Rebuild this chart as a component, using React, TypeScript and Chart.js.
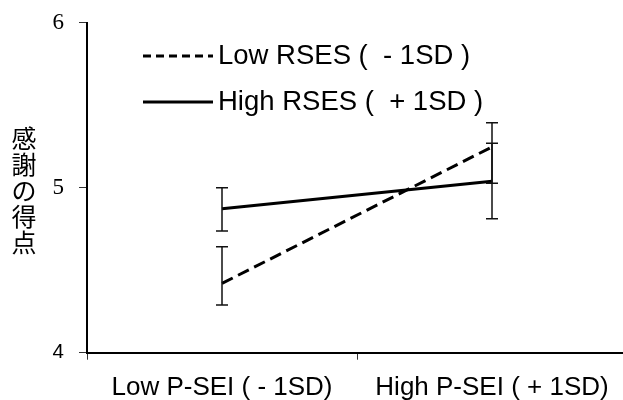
import React, { useEffect, useRef } from 'react';
import { Chart, registerables } from 'chart.js';

Chart.register(...registerables);

const categories = ['Low P-SEI ( - 1SD)', 'High P-SEI ( + 1SD)'];
const seriesNames = ['Low RSES (  - 1SD )', 'High RSES (  + 1SD )'];
const lowRSES = [4.42, 5.247];
const lowRSESLower = [4.289, 5.027];
const lowRSESUpper = [4.642, 5.394];
const highRSES = [4.873, 5.039];
const highRSESLower = [4.738, 4.812];
const highRSESUpper = [5.0, 5.269];
const yMin = 4;
const yMax = 6;
const yTitleChars = ['感', '謝', 'の', '得', '点'];

const SANS = '"Liberation Sans", Arial, sans-serif';
const SERIF = '"Liberation Serif", "Times New Roman", serif';
const CJK = '"Noto Sans CJK JP", sans-serif';

const errorBarsPlugin = {
  id: 'errorBars',
  afterDatasetsDraw(chart: any) {
    const { ctx, scales } = chart;
    const xs = scales.x;
    const ys = scales.y;
    const bounds = [
      [lowRSESLower, lowRSESUpper],
      [highRSESLower, highRSESUpper],
    ];
    ctx.save();
    ctx.strokeStyle = '#111';
    ctx.lineWidth = 1.5;
    bounds.forEach(([lo, hi]) => {
      lo.forEach((v: number, i: number) => {
        const x = xs.getPixelForValue(i);
        const y1 = ys.getPixelForValue(v);
        const y2 = ys.getPixelForValue(hi[i]);
        ctx.beginPath();
        ctx.moveTo(x, y1);
        ctx.lineTo(x, y2);
        ctx.moveTo(x - 6, y1);
        ctx.lineTo(x + 6, y1);
        ctx.moveTo(x - 6, y2);
        ctx.lineTo(x + 6, y2);
        ctx.stroke();
      });
    });
    ctx.restore();
  },
};

const decorPlugin = {
  id: 'decor',
  afterDraw(chart: any) {
    const { ctx } = chart;
    ctx.save();
    ctx.fillStyle = '#000';
    ctx.font = `25px ${CJK}`;
    ctx.textAlign = 'center';
    ctx.textBaseline = 'middle';
    yTitleChars.forEach((c, i) => {
      ctx.fillText(c, 24, 138 + i * 26);
    });
    const rows = [
      { y: 56, dash: [8, 5], text: seriesNames[0] },
      { y: 102, dash: [], text: seriesNames[1] },
    ];
    rows.forEach((r) => {
      ctx.strokeStyle = '#000';
      ctx.lineWidth = 3;
      ctx.setLineDash(r.dash);
      ctx.beginPath();
      ctx.moveTo(143, r.y);
      ctx.lineTo(213, r.y);
      ctx.stroke();
      ctx.setLineDash([]);
      ctx.font = `27.5px ${SANS}`;
      ctx.textAlign = 'left';
      ctx.textBaseline = 'middle';
      ctx.fillText(r.text, 218, r.y);
    });
    ctx.restore();
  },
};

export default function App() {
  const ref = useRef<HTMLCanvasElement | null>(null);
  useEffect(() => {
    if (!ref.current) return;
    Chart.defaults.color = '#000';
    const chart = new Chart(ref.current, {
      type: 'line',
      data: {
        labels: categories,
        datasets: [
          {
            label: seriesNames[0],
            data: lowRSES,
            borderColor: '#000',
            borderWidth: 3,
            borderDash: [12, 6],
            pointRadius: 0,
            fill: false,
            tension: 0,
          },
          {
            label: seriesNames[1],
            data: highRSES,
            borderColor: '#000',
            borderWidth: 3,
            pointRadius: 0,
            fill: false,
            tension: 0,
          },
        ],
      },
      options: {
        animation: false,
        responsive: false,
        events: [],
        layout: { padding: { top: 22.7, left: 0, right: 0, bottom: 0 } },
        plugins: {
          legend: { display: false },
          tooltip: { enabled: false },
          title: { display: false },
        },
        scales: {
          x: {
            type: 'category',
            offset: true,
            grid: {
              offset: true,
              drawOnChartArea: false,
              drawTicks: true,
              tickLength: 7,
              color: '#333',
              lineWidth: 1,
            },
            border: { display: true, color: '#000', width: 2 },
            ticks: {
              color: '#000',
              font: { family: SANS, size: 26 },
              padding: 13,
              maxRotation: 0,
              autoSkip: false,
            },
            afterFit: (scale: any) => {
              scale.height = 47.3;
            },
          },
          y: {
            min: yMin,
            max: yMax,
            grid: {
              drawOnChartArea: false,
              drawTicks: true,
              tickLength: 8,
              color: '#333',
              lineWidth: 1,
            },
            border: { display: true, color: '#000', width: 2 },
            ticks: {
              stepSize: 1,
              color: '#000',
              padding: 15,
              font: (c: any) =>
                c.tick && c.tick.value === 4
                  ? { family: SANS, size: 20.5 }
                  : { family: SERIF, size: 23 },
            },
            afterFit: (scale: any) => {
              scale.width = 87;
              scale.paddingTop = 0;
              scale.paddingBottom = 0;
            },
          },
        },
      },
      plugins: [errorBarsPlugin, decorPlugin],
    } as any);
    return () => chart.destroy();
  }, []);
  return (
    <div style={{ position: 'fixed', left: 0, top: 0, width: 623, height: 400, overflow: 'hidden', background: '#fff' }}>
      <canvas ref={ref} width={627} height={400} style={{ display: 'block' }} />
    </div>
  );
}
